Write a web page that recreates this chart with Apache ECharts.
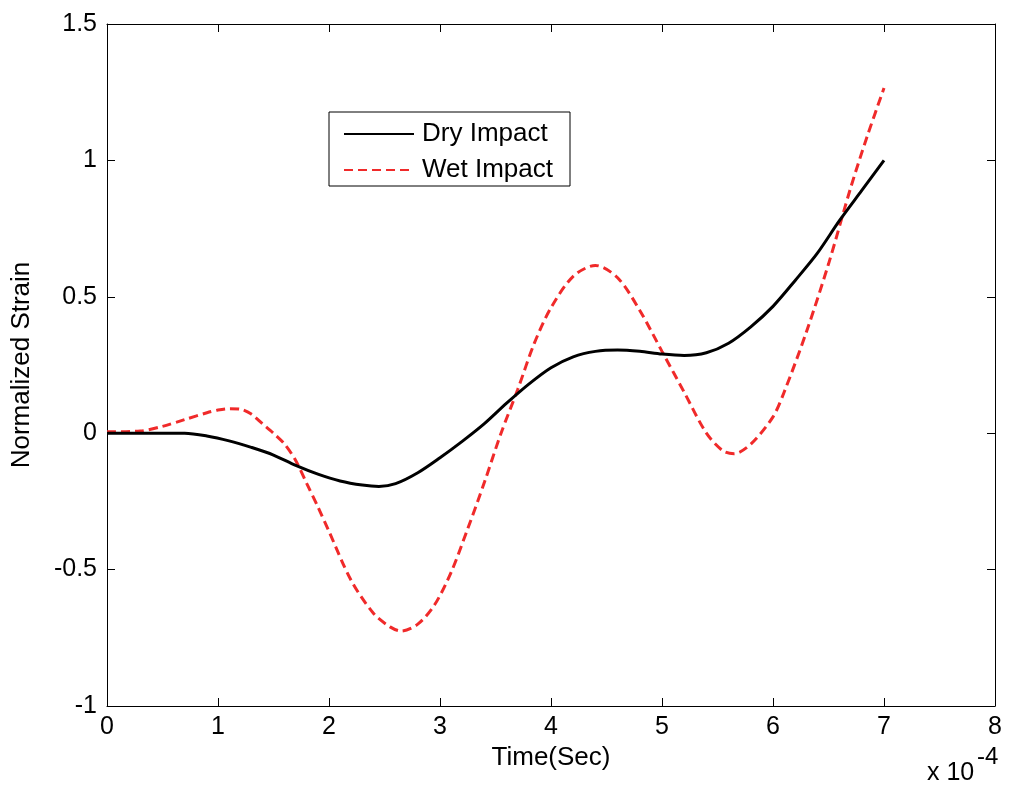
<!DOCTYPE html>
<html>
<head>
<meta charset="utf-8">
<script src="https://cdn.jsdelivr.net/npm/echarts@6/dist/echarts.min.js"></script>
<style>html,body{margin:0;padding:0;background:#fff}#c{width:1011px;height:785px}</style>
</head>
<body>
<div id="c"></div>
<script>
// time in units of 1e-4 s
const dryT = [0,0.5,0.7,0.9,1.1,1.3,1.5,1.7,1.9,2.1,2.3,2.45,2.6,2.8,3.0,3.2,3.4,3.6,3.8,4.0,4.2,4.4,4.6,4.8,5.0,5.2,5.4,5.6,5.8,6.0,6.2,6.4,6.6,6.8,7.0];
const dryV = [0,0,0,-0.01,-0.028,-0.052,-0.08,-0.118,-0.15,-0.175,-0.19,-0.195,-0.185,-0.145,-0.09,-0.03,0.035,0.11,0.18,0.24,0.28,0.30,0.305,0.30,0.29,0.285,0.295,0.33,0.39,0.465,0.56,0.66,0.78,0.89,1.0];
const wetT = [0,0.3,0.5,0.7,0.9,1.0,1.1,1.2,1.3,1.4,1.5,1.6,1.7,1.8,1.9,2.0,2.2,2.4,2.55,2.65,2.8,2.95,3.1,3.25,3.4,3.55,3.7,3.85,4.0,4.2,4.4,4.6,4.8,5.0,5.2,5.4,5.55,5.65,5.8,6.0,6.1,6.3,6.5,6.7,6.85,7.0];
const wetV = [0.005,0.008,0.025,0.05,0.075,0.085,0.09,0.088,0.07,0.035,0.0,-0.04,-0.1,-0.185,-0.27,-0.36,-0.54,-0.66,-0.71,-0.725,-0.7,-0.63,-0.51,-0.35,-0.18,0.0,0.16,0.33,0.46,0.575,0.615,0.57,0.45,0.3,0.15,0.0,-0.065,-0.075,-0.04,0.06,0.15,0.37,0.62,0.9,1.09,1.265];
const seriesNames = ['Dry Impact','Wet Impact'];
const xTicks = [0,1,2,3,4,5,6,7,8];
const yTicks = [-1,-0.5,0,0.5,1,1.5];

const zip = (a,b)=>a.map((v,i)=>[v,b[i]]);
const font = 'Arial, "Liberation Sans", sans-serif';
const chart = echarts.init(document.getElementById('c'));
const axisCommon = () => ({
  axisLine:{show:true,onZero:false,lineStyle:{color:'#000',width:1}},
  axisTick:{show:true,inside:true,length:8,lineStyle:{color:'#000'}},
  splitLine:{show:false}
});
chart.setOption({
  animation:false,
  backgroundColor:'#fff',
  grid:{left:107,right:16,top:24,bottom:79},
  legend:{
    orient:'vertical',left:329,top:112,
    backgroundColor:'#fff',borderColor:'#000',borderWidth:1,borderRadius:0,
    padding:[9,17,3,14],itemWidth:70,itemHeight:26,itemGap:10,
    itemStyle:{opacity:0},
    textStyle:{fontFamily:font,fontSize:26,lineHeight:26,color:'#000',padding:[0,0,0,3]},
    data:seriesNames
  },
  xAxis:[
    Object.assign({type:'value',min:0,max:8,interval:1,position:'bottom',
      axisLabel:{fontFamily:font,fontSize:25,color:'#000',margin:9,formatter:v=>xTicks.includes(v)?String(v):''},
      name:'Time(Sec)',nameLocation:'middle',nameGap:39,
      nameTextStyle:{fontFamily:font,fontSize:26,color:'#000'}},axisCommon()),
    Object.assign({type:'value',min:0,max:8,interval:1,position:'top',axisLabel:{show:false}},axisCommon())
  ],
  yAxis:[
    Object.assign({type:'value',min:-1,max:1.5,interval:0.5,position:'left',
      axisLabel:{fontFamily:font,fontSize:25,color:'#000',margin:10,formatter:v=>yTicks.includes(v)?String(v):''},
      name:'Normalized Strain',nameLocation:'middle',nameGap:72,
      nameTextStyle:{fontFamily:font,fontSize:26,color:'#000'}},axisCommon()),
    Object.assign({type:'value',min:-1,max:1.5,interval:0.5,position:'right',axisLabel:{show:false}},axisCommon())
  ],
  series:[
    {name:seriesNames[0],type:'line',data:zip(dryT,dryV),smooth:0.3,symbol:'none',
      lineStyle:{color:'#000',width:3},itemStyle:{color:'#000'},z:3},
    {name:seriesNames[1],type:'line',data:zip(wetT,wetV),smooth:0.3,symbol:'none',
      lineStyle:{color:'#f02a2a',width:3,type:[9,5]},itemStyle:{color:'#f02a2a'},z:2}
  ],
  graphic:[
    {type:'text',left:927,top:761,style:{text:'x 10',fontFamily:font,fontSize:25,fill:'#000'}},
    {type:'text',left:977,top:745,style:{text:'-4',fontFamily:font,fontSize:24,fill:'#000'}}
  ]
});
</script>
</body>
</html>
